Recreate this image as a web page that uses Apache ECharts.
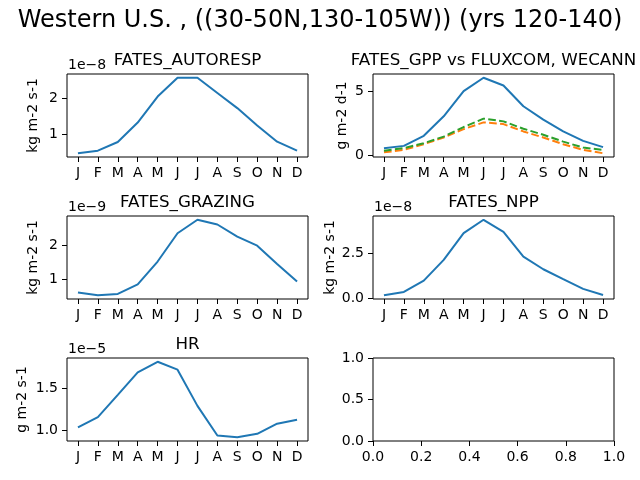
<!DOCTYPE html>
<html>
<head>
<meta charset="utf-8">
<script src="https://cdn.jsdelivr.net/npm/echarts@6/dist/echarts.min.js"></script>
<style>html,body{margin:0;padding:0;background:#fff}#c{width:640px;height:480px}</style>
</head>
<body>
<div id="c"></div>
<script>
// Month labels
const months = ['J','F','M','A','M','J','J','A','S','O','N','D'];
// FATES_AUTORESP (x 1e-8 kg m-2 s-1)
const autoresp = [0.47,0.54,0.78,1.32,2.04,2.56,2.56,2.14,1.72,1.24,0.79,0.54];
// FATES_GPP vs FLUXCOM, WECANN (g m-2 d-1)
const gppFates   = [0.58,0.76,1.54,3.05,5.00,6.04,5.44,3.83,2.79,1.88,1.15,0.66];
const gppFluxcom = [0.26,0.45,0.89,1.41,2.06,2.58,2.45,1.88,1.41,0.89,0.45,0.19];
const gppWecann  = [0.39,0.58,0.97,1.48,2.22,2.87,2.66,2.09,1.62,1.09,0.63,0.45];
// FATES_GRAZING (x 1e-9 kg m-2 s-1)
const grazing = [0.60,0.52,0.56,0.84,1.52,2.36,2.76,2.62,2.26,1.99,1.45,0.93];
// FATES_NPP (x 1e-8 kg m-2 s-1)
const npp = [0.17,0.35,0.98,2.13,3.61,4.35,3.68,2.31,1.61,1.06,0.52,0.18];
// HR (x 1e-5 g m-2 s-1)
const hr = [1.035,1.158,1.42,1.684,1.81,1.717,1.29,0.94,0.92,0.96,1.08,1.126];
// Tick labels
const autorespTicks = [1,2];
const gppTicks = [0,5];
const grazingTicks = [1,2];
const nppTicks = [0,2.5];
const hrTicks = [1.0,1.5];
const emptyTicks = [0,0.2,0.4,0.6,0.8,1.0];
const emptyYTicks = [0,0.5,1.0];

const FONT = 'DejaVu Sans';
const C0 = '#1f77b4', C1 = '#ff7f0e', C2 = '#2ca02c';

const panels = [
  {title:'FATES_AUTORESP', ylab:'kg m-2 s-1', off:'1e\u22128', series:[{d:autoresp,c:C0}], ticks:autorespTicks, dec:0, left:67, top:74, labX:33},
  {title:'FATES_GPP vs FLUXCOM, WECANN', ylab:'g m-2 d-1', off:'', series:[{d:gppFates,c:C0},{d:gppFluxcom,c:C1,dash:true},{d:gppWecann,c:C2,dash:true}], ticks:gppTicks, dec:0, left:373, top:74, labX:342},
  {title:'FATES_GRAZING', ylab:'kg m-2 s-1', off:'1e\u22129', series:[{d:grazing,c:C0}], ticks:grazingTicks, dec:0, left:67, top:216, labX:33},
  {title:'FATES_NPP', ylab:'kg m-2 s-1', off:'1e\u22128', series:[{d:npp,c:C0}], ticks:nppTicks, dec:1, left:373, top:216, labX:330},
  {title:'HR', ylab:'g m-2 s-1', off:'1e\u22125', series:[{d:hr,c:C0}], ticks:hrTicks, dec:1, left:67, top:358, labX:22},
];
const W = 241, H = 83;

const grids = [], xAxes = [], yAxes = [], series = [], graphics = [];
const tickStyle = {show:true, length:5, inside:false, lineStyle:{color:'#000', width:1}};
const labelBase = {color:'#000', fontFamily:FONT, fontSize:14, margin:9};
const noLine = {show:false, onZero:false};

panels.forEach((p, i) => {
  grids.push({left:p.left, top:p.top, width:W, height:H, show:true, borderColor:'#000', borderWidth:1, backgroundColor:'transparent'});
  xAxes.push({type:'value', gridIndex:i, position:'bottom', min:-0.55, max:11.55,
    axisLine:noLine, splitLine:{show:false},
    axisTick:Object.assign({customValues:months.map((m,k)=>k)}, tickStyle),
    axisLabel:Object.assign({customValues:months.map((m,k)=>k), formatter:v=>months[Math.round(v)]}, labelBase)});
  let all = [].concat(...p.series.map(s=>s.d));
  let mn = Math.min(...all), mx = Math.max(...all), pad = (mx-mn)*0.05;
  yAxes.push({type:'value', gridIndex:i, position:'left', min:mn-pad, max:mx+pad,
    axisLine:noLine, splitLine:{show:false},
    axisTick:Object.assign({customValues:p.ticks}, tickStyle),
    axisLabel:Object.assign({customValues:p.ticks, formatter:v=>v.toFixed(p.dec)}, labelBase)});
  p.series.forEach(s => {
    series.push({type:'line', xAxisIndex:i, yAxisIndex:i, data:s.d.map((v,k)=>[k,v]), showSymbol:false, symbol:'none',
      lineStyle:{color:s.c, width:2, type:s.dash?[7.7,3.3]:'solid'}, itemStyle:{color:s.c}, z:2});
  });
  graphics.push({type:'text', x:p.left+W/2, y:p.top-13, style:{text:p.title, fontFamily:FONT, fontSize:16.7, fill:'#000', textAlign:'center', textVerticalAlign:'middle'}});
  if (p.off) graphics.push({type:'text', x:p.left+1, y:p.top-9, style:{text:p.off, fontFamily:FONT, fontSize:14, fill:'#000', textAlign:'left', textVerticalAlign:'middle'}});
  graphics.push({type:'text', x:p.labX, y:p.top+H/2, rotation:Math.PI/2, style:{text:p.ylab, fontFamily:FONT, fontSize:14, fill:'#000', textAlign:'center', textVerticalAlign:'middle'}});
});

// empty bottom-right axes
grids.push({left:373, top:358, width:W, height:H, show:true, borderColor:'#000', borderWidth:1, backgroundColor:'transparent'});
xAxes.push({type:'value', gridIndex:5, position:'bottom', min:0, max:1, axisLine:noLine, splitLine:{show:false},
  axisTick:Object.assign({customValues:emptyTicks}, tickStyle),
  axisLabel:Object.assign({customValues:emptyTicks, formatter:v=>v.toFixed(1)}, labelBase)});
yAxes.push({type:'value', gridIndex:5, position:'left', min:0, max:1, axisLine:noLine, splitLine:{show:false},
  axisTick:Object.assign({customValues:emptyYTicks}, tickStyle),
  axisLabel:Object.assign({customValues:emptyYTicks, formatter:v=>v.toFixed(1)}, labelBase)});
series.push({type:'line', xAxisIndex:5, yAxisIndex:5, data:[], showSymbol:false});

graphics.push({type:'text', x:320, y:21, style:{text:'Western U.S. , ((30-50N,130-105W)) (yrs 120-140)', fontFamily:FONT, fontSize:24, fill:'#000', textAlign:'center', textVerticalAlign:'middle'}});

const chart = echarts.init(document.getElementById('c'), null, {renderer:'canvas'});
chart.setOption({animation:false, backgroundColor:'#fff', grid:grids, xAxis:xAxes, yAxis:yAxes, series:series, graphic:graphics});
</script>
</body>
</html>
